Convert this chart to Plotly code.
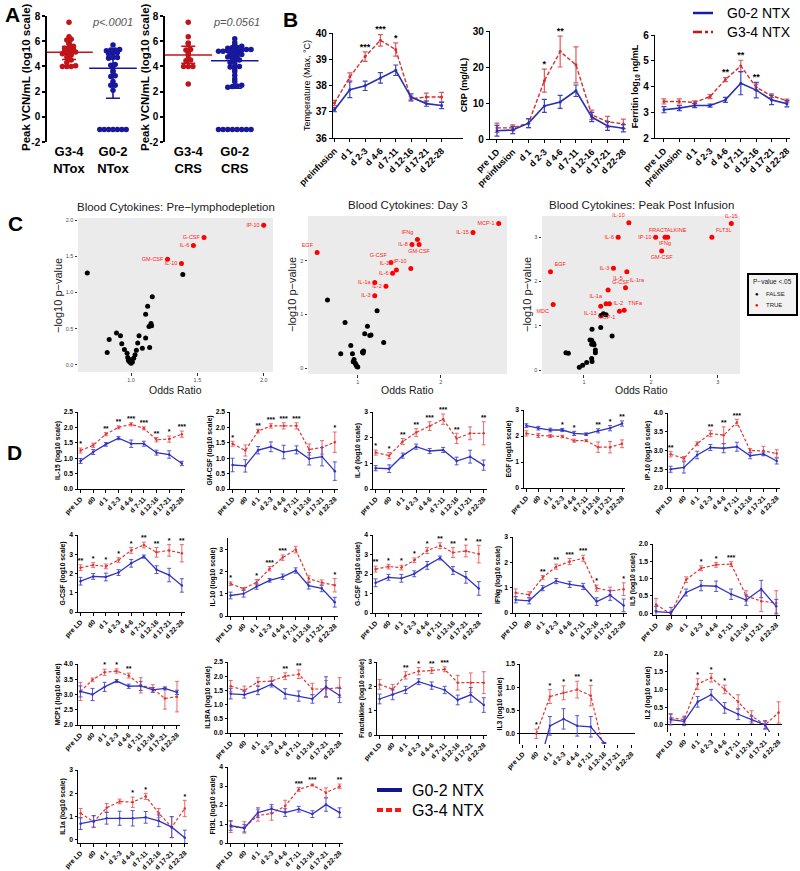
import numpy as np
import plotly.graph_objects as go

W, H = 800, 871
FONT = "Liberation Sans, Arial, Helvetica, sans-serif"

# ======================= DATA =======================
# ---- Panel A ----
a_ntox_groups = ["G3-4<br>NTox", "G0-2<br>NTox"]
a_ntox_g34 = [7.5, 6.35, 6.15, 6.1, 5.85, 5.8, 5.6, 5.5, 5.45, 5.35, 5.3, 5.2, 5.15, 5.1, 5.05, 5.0,
              4.9, 4.75, 4.6, 4.5, 4.3, 4.05, 4.0, 4.0, 4.0]
a_ntox_g02 = [5.7, 5.35, 5.3, 5.3, 5.25, 5.1, 5.05, 5.0, 4.75, 4.7, 4.7, 4.65, 4.15, 4.1, 4.05, 3.65,
              3.55, 3.25, 3.2, 2.8, 2.5, 2.5, 2.1, -1, -1, -1, -1, -1, -1, -1]
a_ntox_mid = [5.12, 3.85]
a_ntox_lo = [4.55, 1.47]
a_ntox_hi = [5.58, 4.72]
a_ntox_pval = "p<.0001"

a_crs_groups = ["G3-4<br>CRS", "G0-2<br>CRS"]
a_crs_g34 = [7.5, 6.35, 5.85, 5.8, 5.35, 5.3, 5.05, 4.9, 4.6, 4.5, 4.45, 4.0, 4.0, 4.0, 2.6]
a_crs_g02 = [6.2, 5.9, 5.7, 5.6, 5.5, 5.5, 5.45, 5.35, 5.35, 5.3, 5.3, 5.3, 5.25, 5.2, 5.2, 5.15, 5.1,
             5.0, 4.95, 4.9, 4.8, 4.75, 4.7, 4.6, 4.5, 4.45, 4.3, 4.25, 4.0, 4.0, 3.95, 3.8, 3.6, 3.3,
             3.0, 2.8, 2.5, 2.45, 2.4, 2.35, -1, -1, -1, -1, -1, -1, -1, -1]
a_crs_mid = [4.9, 4.45]
a_crs_lo = [4.25, 2.26]
a_crs_hi = [5.6, 5.17]
a_crs_pval = "p=0.0561"
a_yticks = [-2, 0, 2, 4, 6, 8]
a_yticklabels = ["-2", "0", "2", "4", "6", "8"]

# ---- Panel B ----
b_temp_cats = ["preinfusion", "d 1", "d 2-3", "d 4-6", "d 7-11", "d 12-16", "d 17-21", "d 22-28"]
b_temp_g02 = [37.08, 37.84, 37.99, 38.29, 38.58, 37.56, 37.31, 37.24]
b_temp_g02_err = [0.08, 0.3, 0.18, 0.2, 0.2, 0.12, 0.1, 0.12]
b_temp_g34 = [37.33, 38.33, 39.1, 39.72, 39.37, 37.5, 37.56, 37.56]
b_temp_g34_err = [0.1, 0.15, 0.18, 0.22, 0.25, 0.1, 0.15, 0.18]
b_temp_stars = ["", "", "***", "***", "*", "", "", ""]

b_cats9 = ["pre LD", "preinfusion", "d 1", "d 2-3", "d 4-6", "d 7-11", "d 12-16", "d 17-21", "d 22-28"]
b_crp_g02 = [2.3, 2.5, 4.4, 9.2, 10.3, 13.4, 6.1, 3.6, 3.0]
b_crp_g02_err = [1.5, 1.0, 1.2, 1.8, 1.8, 1.6, 1.3, 1.2, 1.0]
b_crp_g34 = [3.1, 3.1, 4.4, 16.2, 24.3, 20.6, 6.7, 4.8, 4.2]
b_crp_g34_err = [1.3, 0.8, 1.3, 3.2, 4.3, 5.0, 1.3, 1.5, 1.3]
b_crp_stars = ["", "", "", "*", "**", "", "", "", ""]

b_fer_g02 = [3.1, 3.16, 3.26, 3.26, 3.48, 4.13, 3.86, 3.48, 3.33]
b_fer_g02_err = [0.12, 0.1, 0.08, 0.06, 0.1, 0.45, 0.3, 0.18, 0.12]
b_fer_g34 = [3.42, 3.42, 3.38, 3.61, 4.27, 4.8, 3.97, 3.64, 3.45]
b_fer_g34_err = [0.1, 0.1, 0.06, 0.08, 0.08, 0.22, 0.12, 0.07, 0.06]
b_fer_stars = ["", "", "", "", "**", "**", "**", "", ""]

# ---- Panel C ----
c1_or_false = [0.67, 0.82, 0.835, 0.89, 0.92, 0.93, 0.95, 0.97, 0.975, 0.98, 0.99, 1.0, 1.0, 1.01, 1.02,
               1.03, 1.04, 1.05, 1.06, 1.085, 1.11, 1.11, 1.125, 1.135, 1.15, 1.14, 1.155, 1.16, 1.39]
c1_p_false = [1.27, 0.17, 0.35, 0.44, 0.40, 0.29, 0.21, 0.16, 0.10, 0.06, 0.04, 0.02, 0.07, 0.04, 0.09,
              0.14, 0.20, 0.30, 0.40, 0.23, 0.37, 0.70, 0.81, 0.53, 0.57, 0.24, 0.54, 0.94, 1.25]
c1_names = ["GM-CSF", "IL-10", "IL-6", "G-CSF", "IP-10"]
c1_or_true = [1.275, 1.38, 1.47, 1.55, 2.0]
c1_p_true = [1.46, 1.40, 1.65, 1.76, 1.93]

c2_or_false = [0.635, 0.847, 0.795, 0.916, 0.936, 0.945, 0.955, 0.97, 0.98, 0.99, 1.0, 1.057, 1.065,
               1.07, 1.084, 1.117, 1.145, 1.16, 1.233, 1.313]
c2_p_false = [1.27, 0.85, 0.27, 0.42, 0.27, 0.12, 0.16, 0.09, 0.06, 0.03, 0.02, 0.30, 0.28, 0.32, 0.64,
              0.78, 0.61, 0.62, 1.07, 0.48]
c2_names = ["EGF", "MCP-1", "IL-15", "IFNg", "IL-8", "GM-CSF", "G-CSF", "IL-10", "IP-10", "IL-6",
            "IL-1a", "IL-2", "IL-3"]
c2_or_true = [0.51, 2.70, 2.39, 1.72, 1.654, 1.74, 1.40, 1.466, 1.64, 1.42, 1.205, 1.34, 1.205]
c2_p_true = [2.16, 2.70, 2.53, 2.40, 2.31, 2.31, 1.97, 1.83, 1.86, 1.77, 1.60, 1.53, 1.35]

c3_or_false = [1.254, 1.29, 1.33, 1.12, 1.25, 1.42, 1.115, 1.14, 1.115, 1.15, 1.17, 1.17, 0.73, 0.766,
               1.115, 1.12, 1.04, 0.98, 0.93, 1.09]
c3_p_false = [1.23, 1.27, 1.25, 0.92, 0.96, 0.77, 0.67, 0.61, 0.58, 0.57, 0.45, 0.39, 0.39, 0.38, 0.26,
              0.19, 0.17, 0.11, 0.06, 0.68]
c3_names = ["IL-15", "IL-10", "IL-6", "IP-10", "IFNg", "FRACTALKINE", "FLT3L", "GM-CSF", "EGF", "IL-3",
            "IL-5", "G-CSF", "IL-1ra", "IL-1a", "IL-2", "MDC", "IL-13", "MCP-1", "TNFa"]
c3_or_true = [3.20, 1.67, 1.51, 2.07, 2.21, 2.25, 2.91, 2.16, 0.50, 1.44, 1.64, 1.36, 1.62, 1.33, 1.38,
              0.54, 1.25, 1.53, 1.60]
c3_p_true = [3.31, 3.33, 3.0, 3.0, 3.0, 3.0, 3.0, 2.69, 2.22, 2.30, 2.22, 1.81, 1.86, 1.50, 1.50, 1.48,
             1.44, 1.33, 1.35]

# ---- Panel D ----
d_cats = ["pre LD", "d0", "d 1", "d 2-3", "d 4-6", "d 7-11", "d 12-16", "d 17-21", "d 22-28"]

il15_g02 = [0.91, 1.2, 1.45, 1.65, 1.47, 1.47, 1.18, 1.12, 0.83]
il15_g02_err = [0.08, 0.08, 0.06, 0.05, 0.12, 0.08, 0.08, 0.12, 0.07]
il15_g34 = [1.25, 1.42, 1.78, 2.0, 2.1, 1.97, 1.6, 1.62, 1.78]
il15_g34_err = [0.08, 0.07, 0.05, 0.05, 0.05, 0.05, 0.07, 0.1, 0.1]
il15_stars = ["*", "", "**", "**", "***", "***", "**", "*", "***"]

gmcsf_g02 = [0.78, 0.75, 1.26, 1.37, 1.2, 1.27, 0.98, 1.05, 0.58]
gmcsf_g02_err = [0.22, 0.2, 0.12, 0.16, 0.22, 0.13, 0.2, 0.3, 0.3]
gmcsf_g34 = [1.47, 1.25, 1.88, 2.05, 2.05, 2.05, 1.28, 1.35, 1.52]
gmcsf_g34_err = [0.08, 0.18, 0.06, 0.07, 0.1, 0.1, 0.18, 0.22, 0.33]
gmcsf_stars = ["*", "", "**", "***", "***", "***", "", "", "*"]

il6_g02 = [0.81, 0.79, 1.3, 1.65, 1.48, 1.52, 1.09, 1.26, 0.93]
il6_g02_err = [0.1, 0.15, 0.1, 0.1, 0.1, 0.1, 0.15, 0.25, 0.2]
il6_g34 = [1.42, 1.3, 1.85, 2.2, 2.45, 2.72, 1.97, 2.17, 2.17]
il6_g34_err = [0.1, 0.12, 0.12, 0.15, 0.17, 0.2, 0.2, 0.25, 0.45]
il6_stars = ["*", "*", "**", "**", "***", "***", "**", "", "**"]

egf_g02 = [2.4, 2.3, 2.23, 2.23, 2.1, 2.07, 2.2, 2.3, 2.48]
egf_g02_err = [0.07, 0.07, 0.07, 0.06, 0.08, 0.05, 0.08, 0.1, 0.1]
egf_g34 = [2.1, 2.02, 2.0, 1.98, 1.82, 1.82, 1.57, 1.57, 1.7]
egf_g34_err = [0.1, 0.08, 0.06, 0.05, 0.06, 0.04, 0.2, 0.22, 0.15]
egf_stars = ["", "", "", "*", "*", "", "**", "*", "**"]

ip10_g02 = [2.5, 2.55, 2.88, 3.08, 3.06, 3.1, 2.86, 2.91, 2.72]
ip10_g02_err = [0.08, 0.15, 0.1, 0.08, 0.12, 0.12, 0.08, 0.05, 0.08]
ip10_g34 = [2.9, 2.79, 3.18, 3.45, 3.41, 3.75, 3.0, 2.99, 2.92]
ip10_g34_err = [0.07, 0.05, 0.05, 0.08, 0.22, 0.08, 0.05, 0.12, 0.1]
ip10_stars = ["**", "", "", "**", "**", "***", "", "", ""]

gcsf_g02 = [1.6, 1.85, 1.82, 2.05, 2.53, 2.88, 2.2, 1.92, 1.38]
gcsf_g02_err = [0.2, 0.15, 0.2, 0.15, 0.2, 0.08, 0.2, 0.35, 0.35]
gcsf_g34 = [2.3, 2.44, 2.37, 2.7, 3.2, 3.48, 3.1, 3.2, 3.05]
gcsf_g34_err = [0.15, 0.12, 0.12, 0.12, 0.15, 0.15, 0.25, 0.3, 0.45]
gcsf_stars = ["**", "*", "*", "*", "*", "**", "**", "*", "**"]

il10_g02 = [0.92, 1.0, 1.32, 1.6, 1.76, 2.04, 1.36, 1.24, 0.62]
il10_g02_err = [0.15, 0.15, 0.12, 0.08, 0.12, 0.12, 0.15, 0.15, 0.22]
il10_g34 = [1.45, 1.22, 1.52, 2.12, 2.62, 2.98, 1.68, 1.5, 1.38]
il10_g34_err = [0.08, 0.05, 0.12, 0.1, 0.12, 0.15, 0.12, 0.12, 0.3]
il10_stars = ["*", "", "*", "***", "***", "", "", "", "*"]

gcsf2_g02 = [1.55, 1.83, 1.78, 2.01, 2.44, 2.82, 2.18, 1.83, 1.26]
gcsf2_g02_err = [0.2, 0.15, 0.2, 0.15, 0.2, 0.1, 0.2, 0.3, 0.35]
gcsf2_g34 = [2.25, 2.38, 2.33, 2.7, 3.2, 3.45, 3.1, 3.18, 3.02]
gcsf2_g34_err = [0.15, 0.12, 0.12, 0.12, 0.15, 0.15, 0.25, 0.3, 0.45]
gcsf2_stars = ["**", "*", "*", "*", "*", "**", "**", "*", "**"]

ifng_g02 = [0.52, 0.48, 0.98, 1.26, 1.13, 1.05, 0.45, 0.7, 0.3]
ifng_g02_err = [0.12, 0.12, 0.1, 0.1, 0.12, 0.12, 0.15, 0.2, 0.25]
ifng_g34 = [0.8, 0.72, 1.4, 1.83, 2.03, 2.16, 0.98, 0.87, 0.94]
ifng_g34_err = [0.15, 0.12, 0.08, 0.1, 0.12, 0.12, 0.12, 0.15, 0.25]
ifng_stars = ["", "", "**", "**", "***", "***", "*", "", "*"]

il5_g02 = [0.05, 0.02, 0.6, 0.8, 0.78, 0.55, 0.38, 0.7, 0.2]
il5_g02_err = [0.15, 0.15, 0.1, 0.15, 0.15, 0.15, 0.15, 0.25, 0.2]
il5_g34 = [0.25, -0.02, 0.97, 1.3, 1.4, 1.42, 0.5, 0.35, 0.3]
il5_g34_err = [0.18, 0.08, 0.08, 0.07, 0.07, 0.07, 0.15, 0.3, 0.35]
il5_stars = ["", "", "", "*", "*", "***", "", "", ""]

mcp1_g02 = [3.1, 3.0, 3.25, 3.44, 3.27, 3.28, 3.15, 3.2, 3.07]
mcp1_g02_err = [0.18, 0.2, 0.15, 0.05, 0.07, 0.15, 0.08, 0.05, 0.07]
mcp1_g34 = [3.1, 3.48, 3.73, 3.77, 3.62, 3.3, 3.2, 2.87, 2.93]
mcp1_g34_err = [0.3, 0.06, 0.1, 0.07, 0.08, 0.25, 0.12, 0.35, 0.5]
mcp1_stars = ["", "", "*", "*", "**", "", "", "", ""]

il1ra_g02 = [1.38, 1.35, 1.5, 1.72, 1.38, 1.3, 1.2, 1.63, 1.32]
il1ra_g02_err = [0.18, 0.12, 0.15, 0.1, 0.18, 0.18, 0.15, 0.35, 0.25]
il1ra_g34 = [1.65, 1.5, 1.8, 1.83, 2.0, 2.07, 1.55, 1.55, 1.6]
il1ra_g34_err = [0.2, 0.15, 0.15, 0.15, 0.12, 0.15, 0.2, 0.3, 0.35]
il1ra_stars = ["", "", "", "", "**", "**", "", "", ""]

frac_g02 = [1.48, 1.65, 1.85, 2.19, 2.03, 1.85, 1.44, 1.65, 1.23]
frac_g02_err = [0.2, 0.2, 0.15, 0.12, 0.15, 0.15, 0.2, 0.3, 0.3]
frac_g34 = [2.08, 1.88, 2.45, 2.62, 2.65, 2.7, 2.15, 2.15, 2.15]
frac_g34_err = [0.2, 0.2, 0.15, 0.15, 0.12, 0.1, 0.3, 0.4, 0.45]
frac_stars = ["", "", "**", "*", "**", "***", "", "", ""]

il3_g02 = [None, -0.9, 0.17, 0.32, 0.17, 0.15, -0.2, None, None]
il3_g02_err = [0, 0, 0.2, 0.22, 0.22, 0.22, 0, 0, 0]
il3_g34 = [None, 0.0, 0.8, 0.88, 0.95, 0.82, -0.4, None, None]
il3_g34_err = [0, 0.1, 0.15, 0.15, 0.18, 0.22, 0, 0, 0]
il3_stars = ["", "*", "*", "*", "**", "*", "", "", ""]

il2_g02 = [0.15, 0.1, 0.65, 0.85, 0.48, 0.3, 0.15, 0.0, -0.6]
il2_g02_err = [0.15, 0.12, 0.15, 0.15, 0.15, 0.15, 0.1, 0.12, 0]
il2_g34 = [0.2, 0.15, 1.15, 1.33, 1.0, 0.65, 0.25, 0.0, 0.35]
il2_g34_err = [0.12, 0.1, 0.15, 0.12, 0.12, 0.2, 0.15, 0.1, 0.3]
il2_stars = ["", "", "*", "*", "*", "", "", "", ""]

il1a_g02 = [0.7, 0.8, 0.93, 0.93, 0.93, 0.97, 0.82, 0.55, 0.1]
il1a_g02_err = [0.25, 0.25, 0.25, 0.3, 0.33, 0.25, 0.25, 0.45, 0.32]
il1a_g34 = [1.15, 0.78, 1.38, 1.65, 1.62, 1.87, 1.15, 0.55, 1.35]
il1a_g34_err = [0.2, 0.25, 0.18, 0.1, 0.22, 0.13, 0.2, 0.45, 0.35]
il1a_stars = ["", "", "", "", "*", "*", "", "", "*"]

flt3l_g02 = [0.92, 0.78, 1.6, 1.8, 1.6, 1.78, 1.52, 2.02, 1.6]
flt3l_g02_err = [0.25, 0.2, 0.25, 0.22, 0.2, 0.15, 0.18, 0.35, 0.25]
flt3l_g34 = [0.85, 0.82, 1.45, 1.55, 1.95, 2.82, 3.05, 2.65, 2.98]
flt3l_g34_err = [0.3, 0.3, 0.3, 0.35, 0.3, 0.1, 0.05, 0.25, 0.12]
flt3l_stars = ["", "", "", "", "", "***", "***", "", "**"]

legend_labels = ["G0-2 NTX", "G3-4 NTX"]

# ======================= HELPERS =======================
fig = go.Figure()
lay = {}
annos = []
shapes = []
counter = {"n": 0}


def f(size, color="black", bold=False, italic=False):
    return dict(family=FONT, size=size, color=color,
                weight="bold" if bold else "normal",
                style="italic" if italic else "normal")


def axes(x0, x1, ytop, ybot, xo, yo):
    counter["n"] += 1
    n = counter["n"]
    s = "" if n == 1 else str(n)
    lay["xaxis" + s] = dict(domain=[x0 / W, x1 / W], anchor="y" + s, automargin=False, **xo)
    lay["yaxis" + s] = dict(domain=[1 - ybot / H, 1 - ytop / H], anchor="x" + s, automargin=False, **yo)
    return "x" + s, "y" + s


def text_at(x, y, text, font, xanchor="center", yanchor="middle", angle=0):
    annos.append(dict(x=x / W, y=1 - y / H, xref="paper", yref="paper", text=text, showarrow=False,
                      font=font, xanchor=xanchor, yanchor=yanchor, textangle=angle))


def swarm(values, bin_size, step):
    vals = np.asarray(values, dtype=float)
    bins = np.round(vals / bin_size).astype(int)
    offs = np.zeros(len(vals))
    for b in np.unique(bins):
        idx = np.where(bins == b)[0]
        idx = idx[np.argsort(vals[idx])]
        k = len(idx)
        offs[idx] = (np.arange(k) - (k - 1) / 2.0) * step
    return offs


def star_points(cats, g02, e02, g34, e34, stars):
    xs, ys, ts = [], [], []
    for c, a, ea, b, eb, s in zip(cats, g02, e02, g34, e34, stars):
        if not s:
            continue
        cand = [v + e for v, e in ((a, ea), (b, eb)) if v is not None]
        xs.append(c)
        ys.append(max(cand))
        ts.append(s)
    return xs, ys, ts


def series(xa, ya, cats, vals, errs, color, ecolor, dash, width, msize, ethick, ewidth):
    fig.add_trace(go.Scatter(
        x=cats, y=vals, mode="lines+markers", xaxis=xa, yaxis=ya,
        line=dict(color=color, width=width, dash=dash),
        marker=dict(size=msize, color=color),
        error_y=dict(type="data", array=errs, color=ecolor, thickness=ethick, width=ewidth),
        showlegend=False, hoverinfo="skip", connectgaps=False))


# ======================= PANEL A =======================
A_RED = "rgb(192,20,24)"
A_BLUE = "rgb(24,24,156)"


def panel_a(x0, x1, groups, g34, g02, mid, lo, hi, ptext, title_x):
    xa, ya = axes(
        x0, x1, 16, 142,
        dict(range=[-0.5, 1.5], showline=False, zeroline=False, showgrid=False, tickvals=[0, 1],
             ticktext=groups, ticks="", tickfont=f(13, bold=True)),
        dict(range=[-2, 8], showline=True, linecolor="black", linewidth=1.5, ticks="outside",
             ticklen=3, tickwidth=1.5, tickcolor="black", tickvals=a_yticks, ticktext=a_yticklabels,
             tickfont=f(10, bold=True), showgrid=False, zeroline=False))
    for i, (vals, col) in enumerate([(g34, A_RED), (g02, A_BLUE)]):
        offs = swarm(vals, 0.22, 0.1)
        fig.add_trace(go.Scatter(x=i + offs, y=vals, mode="markers", xaxis=xa, yaxis=ya,
                                 marker=dict(size=5.5, color=col), showlegend=False,
                                 hoverinfo="skip", cliponaxis=False))
        fig.add_trace(go.Scatter(
            x=[i], y=[mid[i]], mode="markers", xaxis=xa, yaxis=ya,
            marker=dict(symbol="line-ew", size=34, color=col, line=dict(width=1.6, color=col)),
            error_y=dict(type="data", symmetric=False, array=[hi[i] - mid[i]],
                         arrayminus=[mid[i] - lo[i]], color=col, thickness=1.6, width=7),
            showlegend=False, hoverinfo="skip", cliponaxis=False))
    text_at(x1 - 22, 22, ptext, f(11, color="#555555", italic=True))
    text_at(title_x, 77, "Peak VCN/mL (log10 scale)", f(11.5, bold=True), angle=-90)


panel_a(47, 135, a_ntox_groups, a_ntox_g34, a_ntox_g02, a_ntox_mid, a_ntox_lo, a_ntox_hi,
        a_ntox_pval, 26)
panel_a(165, 258, a_crs_groups, a_crs_g34, a_crs_g02, a_crs_mid, a_crs_lo, a_crs_hi,
        a_crs_pval, 145)

# ======================= PANEL B =======================
B_RED = "rgb(214,45,45)"
B_RED_E = "rgb(222,90,90)"
B_BLUE = "rgb(40,48,178)"
B_BLUE_E = "rgb(60,70,190)"


def panel_b(x0, x1, ytop, ybot, xr, yr, dtick, cats, g02, e02, g34, e34, stars, ytitle, tbold):
    xa, ya = axes(
        x0, x1, ytop, ybot,
        dict(type="category", categoryorder="array", categoryarray=cats, range=xr, showline=True,
             linecolor="black", linewidth=1.3, ticks="outside", ticklen=3, tickwidth=1.2,
             tickcolor="black", tickangle=-45, tickfont=f(9, bold=True), showgrid=False,
             zeroline=False),
        dict(range=yr, dtick=dtick, showline=True, linecolor="black", linewidth=1.3, ticks="outside",
             ticklen=3, tickwidth=1.2, tickcolor="black", tickfont=f(10, bold=True), showgrid=False,
             zeroline=False, title=dict(text=ytitle, font=f(9, bold=tbold), standoff=3)))
    series(xa, ya, cats, g34, e34, B_RED, B_RED_E, "4px,2px", 1.4, 3, 1.2, 2.5)
    series(xa, ya, cats, g02, e02, B_BLUE, B_BLUE_E, "solid", 1.6, 3, 1.2, 2.5)
    sx, sy, st = star_points(cats, g02, e02, g34, e34, stars)
    fig.add_trace(go.Scatter(x=sx, y=sy, mode="text", text=st, textposition="top center",
                             textfont=f(9, bold=True), xaxis=xa, yaxis=ya, showlegend=False,
                             hoverinfo="skip", cliponaxis=False))


panel_b(333, 463, 33, 138, [-0.1, 8.4], [36, 40], 1, b_temp_cats, b_temp_g02, b_temp_g02_err,
        b_temp_g34, b_temp_g34_err, b_temp_stars, "Temperature (Max, °C)", False)
panel_b(490, 630, 31, 139, [-0.44, 8.42], [0, 30], 10, b_cats9, b_crp_g02, b_crp_g02_err,
        b_crp_g34, b_crp_g34_err, b_crp_stars, "CRP (mg/dL)", True)
panel_b(655, 790, 35, 138, [-0.58, 8.2], [2, 6], 1, b_cats9, b_fer_g02, b_fer_g02_err,
        b_fer_g34, b_fer_g34_err, b_fer_stars, "Ferritin log<sub>10</sub> ng/mL", True)

# Legend for B
shapes.append(dict(type="line", xref="paper", yref="paper", x0=693 / W, x1=713 / W, y0=1 - 13 / H,
                   y1=1 - 13 / H, line=dict(color="rgb(20,30,160)", width=2.5)))
shapes.append(dict(type="line", xref="paper", yref="paper", x0=693 / W, x1=713 / W, y0=1 - 32 / H,
                   y1=1 - 32 / H, line=dict(color="rgb(200,20,20)", width=2.5, dash="dashdot")))
text_at(725, 13, legend_labels[0], f(14), xanchor="left")
text_at(725, 32, legend_labels[1], f(14), xanchor="left")

# ======================= PANEL C =======================
C_GRAY = "#EBEBEB"


def panel_c(x0, x1, ytop, ybot, xr, yr, xt, xfmt, yt, yfmt, or_f, p_f, or_t, p_t, names, tpos,
            title, ytitle_x):
    tick = dict(ticks="outside", ticklen=2.5, tickwidth=0.8, tickcolor="#333333",
                tickfont=f(5.5, color="#4d4d4d"), showline=False, showgrid=False, zeroline=False)
    xa, ya = axes(x0, x1, ytop, ybot,
                  dict(range=xr, tickvals=xt, tickformat=xfmt, **tick),
                  dict(range=yr, tickvals=yt, tickformat=yfmt, **tick))
    shapes.append(dict(type="rect", xref=xa + " domain", yref=ya + " domain", x0=0, x1=1, y0=0, y1=1,
                       fillcolor=C_GRAY, line=dict(width=0), layer="below"))
    fig.add_trace(go.Scatter(x=or_f, y=p_f, mode="markers", marker=dict(size=5, color="black"),
                             xaxis=xa, yaxis=ya, showlegend=False, hoverinfo="skip"))
    fig.add_trace(go.Scatter(x=or_t, y=p_t, mode="markers+text", text=names, textposition=tpos,
                             textfont=f(5.5, color="#ff2020"), marker=dict(size=5, color="#ff0000"),
                             xaxis=xa, yaxis=ya, showlegend=False, hoverinfo="skip", cliponaxis=False))
    text_at((x0 + x1) / 2, ytop - 11, title, f(11.5, color="#1a1a1a"))
    text_at((x0 + x1) / 2, 390, "Odds Ratio", f(10.5, color="#1a1a1a"))
    text_at(ytitle_x, (ytop + ybot) / 2, "−log10 p−value", f(11, color="#1a1a1a"), angle=-90)


c1_pos = ["middle left", "middle left", "middle left", "middle left", "middle left"]
c2_pos = ["top left", "middle left", "middle left", "top left", "middle left", "bottom center",
          "top left", "top left", "top left", "middle left", "middle left", "middle left", "middle left"]
c3_pos = ["top center", "top left", "middle left", "middle left", "bottom center", "top center",
          "top right", "bottom center", "top right", "middle left", "bottom left", "top right",
          "top right", "top left", "middle right", "bottom left", "bottom left", "bottom left",
          "top right"]

panel_c(78, 273, 218, 372, [0.60, 2.07], [-0.1, 2.03], [1.0, 1.5, 2.0], ".1f",
        [0, 0.5, 1.0, 1.5, 2.0], ".1f", c1_or_false, c1_p_false, c1_or_true, c1_p_true, c1_names,
        c1_pos, "Blood Cytokines: Pre−lymphodepletion", 58)
panel_c(308, 507, 216, 374, [0.40, 2.80], [-0.11, 2.84], [1, 2], "d", [0, 1, 2], "d",
        c2_or_false, c2_p_false, c2_or_true, c2_p_true, c2_names, c2_pos,
        "Blood Cytokines: Day 3", 292)
panel_c(542, 740, 216, 374, [0.373, 3.33], [-0.09, 3.48], [1, 2, 3], "d", [0, 1, 2, 3], "d",
        c3_or_false, c3_p_false, c3_or_true, c3_p_true, c3_names, c3_pos,
        "Blood Cytokines: Peak Post Infusion", 527)

# C legend box
shapes.append(dict(type="rect", xref="paper", yref="paper", x0=748 / W, x1=797 / W, y0=1 - 315 / H,
                   y1=1 - 274 / H, fillcolor="#f2f2f2", line=dict(color="black", width=2)))
text_at(751, 282, "P−value <.05", f(6.5, color="#1a1a1a"), xanchor="left")
text_at(757, 294, "●", f(6, color="black"))
text_at(764, 294, "FALSE", f(6, color="#1a1a1a"), xanchor="left")
text_at(757, 305, "●", f(6, color="#ff0000"))
text_at(764, 305, "TRUE", f(6, color="#1a1a1a"), xanchor="left")

# ======================= PANEL D =======================
D_RED = "rgb(228,52,52)"
D_RED_E = "rgb(232,105,105)"
D_BLUE = "rgb(50,50,192)"
D_BLUE_E = "rgb(85,85,205)"


def panel_d(x0, x1, ytop, ybot, yr, yticks, yfmt, title, g02, e02, g34, e34, stars, zero_axis=False):
    xa, ya = axes(
        x0, x1, ytop, ybot,
        dict(type="category", categoryorder="array", categoryarray=d_cats, range=[-0.2, 8.25],
             showline=not zero_axis, linecolor="black", linewidth=1, ticks="outside", ticklen=2.5,
             tickwidth=1, tickcolor="black", tickangle=-45, tickfont=f(6.8, bold=True),
             showgrid=False, zeroline=False),
        dict(range=yr, tickvals=yticks, tickformat=yfmt, showline=True, linecolor="black",
             linewidth=1, ticks="outside", ticklen=2.5, tickwidth=1, tickcolor="black",
             tickfont=f(6.8, bold=True), showgrid=False, zeroline=zero_axis, zerolinecolor="black",
             zerolinewidth=1, title=dict(text=title, font=f(6.8, bold=True), standoff=2)))
    series(xa, ya, d_cats, g34, e34, D_RED, D_RED_E, "3px,2px", 1.2, 2.5, 1, 2)
    series(xa, ya, d_cats, g02, e02, D_BLUE, D_BLUE_E, "solid", 1.3, 2.5, 1, 2)
    sx, sy, st = star_points(d_cats, g02, e02, g34, e34, stars)
    fig.add_trace(go.Scatter(x=sx, y=sy, mode="text", text=st, textposition="top center",
                             textfont=f(7, bold=True), xaxis=xa, yaxis=ya, showlegend=False,
                             hoverinfo="skip", cliponaxis=False))


t05 = [0, 0.5, 1.0, 1.5, 2.0, 2.5]
# Row 1
panel_d(78, 185, 412, 489, [0, 2.5], t05, ".1f", "IL-15 (log10 scale)",
        il15_g02, il15_g02_err, il15_g34, il15_g34_err, il15_stars)
panel_d(230, 338, 412, 489, [0, 2.5], t05, ".1f", "GM-CSF (log10 scale)",
        gmcsf_g02, gmcsf_g02_err, gmcsf_g34, gmcsf_g34_err, gmcsf_stars)
panel_d(373, 487, 412, 489, [0, 3], [0, 1, 2, 3], "d", "IL-6 (log10 scale)",
        il6_g02, il6_g02_err, il6_g34, il6_g34_err, il6_stars)
panel_d(524, 625, 410, 488, [0, 3], [0, 1, 2, 3], "d", "EGF (log10 scale)",
        egf_g02, egf_g02_err, egf_g34, egf_g34_err, egf_stars)
panel_d(668, 780, 413, 488, [2, 4], [2.0, 2.5, 3.0, 3.5, 4.0], ".1f", "IP-10 (log10 scale)",
        ip10_g02, ip10_g02_err, ip10_g34, ip10_g34_err, ip10_stars)
# Row 2
panel_d(78, 185, 535, 612, [0, 4], [0, 1, 2, 3, 4], "d", "G-CSF (log10 scale)",
        gcsf_g02, gcsf_g02_err, gcsf_g34, gcsf_g34_err, gcsf_stars)
panel_d(228, 338, 538, 616, [0, 3.5], [0, 1, 2, 3], "d", "IL-10 (log10 scale)",
        il10_g02, il10_g02_err, il10_g34, il10_g34_err, il10_stars)
panel_d(373, 482, 535, 613, [0, 4], [0, 1, 2, 3, 4], "d", "G-CSF (log10 scale)",
        gcsf2_g02, gcsf2_g02_err, gcsf2_g34, gcsf2_g34_err, gcsf2_stars)
panel_d(513, 627, 537, 613, [0, 3], [0, 1, 2, 3], "d", "IFNg (log10 scale)",
        ifng_g02, ifng_g02_err, ifng_g34, ifng_g34_err, ifng_stars)
panel_d(653, 780, 544, 615, [-0.05, 2.0], [0, 0.5, 1.0, 1.5, 2.0], ".1f", "IL5 (log10 scale)",
        il5_g02, il5_g02_err, il5_g34, il5_g34_err, il5_stars)
# Row 3
panel_d(78, 180, 664, 725, [2, 4], [2.0, 2.5, 3.0, 3.5, 4.0], ".1f", "MCP1 (log10 scale)",
        mcp1_g02, mcp1_g02_err, mcp1_g34, mcp1_g34_err, mcp1_stars)
panel_d(228, 343, 662, 733, [0, 2.5], t05, ".1f", "IL1RA (log10 scale)",
        il1ra_g02, il1ra_g02_err, il1ra_g34, il1ra_g34_err, il1ra_stars)
panel_d(377, 487, 662, 735, [0, 3], [0, 1, 2, 3], "d", "Fractalkine (log10 scale)",
        frac_g02, frac_g02_err, frac_g34, frac_g34_err, frac_stars)
panel_d(520, 635, 664, 744, [-0.22, 1.5], [0, 0.5, 1.0, 1.5], ".1f", "IL3 (log10 scale)",
        il3_g02, il3_g02_err, il3_g34, il3_g34_err, il3_stars, zero_axis=True)
panel_d(668, 782, 654, 732, [-0.2, 2.0], [0, 0.5, 1.0, 1.5, 2.0], ".1f", "IL2 (log10 scale)",
        il2_g02, il2_g02_err, il2_g34, il2_g34_err, il2_stars, zero_axis=True)
# Row 4
panel_d(78, 188, 770, 843, [-0.13, 3], [0, 1, 2, 3], "d", "IL1a (log10 scale)",
        il1a_g02, il1a_g02_err, il1a_g34, il1a_g34_err, il1a_stars)
panel_d(228, 343, 767, 843, [0, 4], [0, 1, 2, 3, 4], "d", "Flt3L (log10 scale)",
        flt3l_g02, flt3l_g02_err, flt3l_g34, flt3l_g34_err, flt3l_stars)

# Legend for D
shapes.append(dict(type="line", xref="paper", yref="paper", x0=377 / W, x1=402 / W, y0=1 - 790 / H,
                   y1=1 - 790 / H, line=dict(color="rgb(20,20,140)", width=4)))
shapes.append(dict(type="line", xref="paper", yref="paper", x0=377 / W, x1=402 / W, y0=1 - 810 / H,
                   y1=1 - 810 / H, line=dict(color="rgb(255,20,20)", width=4, dash="6px,3px")))
text_at(410, 790, legend_labels[0], f(16), xanchor="left")
text_at(410, 810, legend_labels[1], f(16), xanchor="left")

# Panel letters
text_at(12, 15, "A", f(21, bold=True))
text_at(290, 19, "B", f(21, bold=True))
text_at(15, 223, "C", f(21, bold=True))
text_at(14, 452, "D", f(21, bold=True))

fig.update_layout(template="none", width=W, height=H, margin=dict(l=0, r=0, t=0, b=0),
                  paper_bgcolor="white", plot_bgcolor="white", showlegend=False,
                  annotations=annos, shapes=shapes, font=dict(family=FONT), **lay)
fig.write_html("out.html", config={"displayModeBar": False},
               post_script="document.body.style.margin='0px';document.body.style.overflow='hidden';")
